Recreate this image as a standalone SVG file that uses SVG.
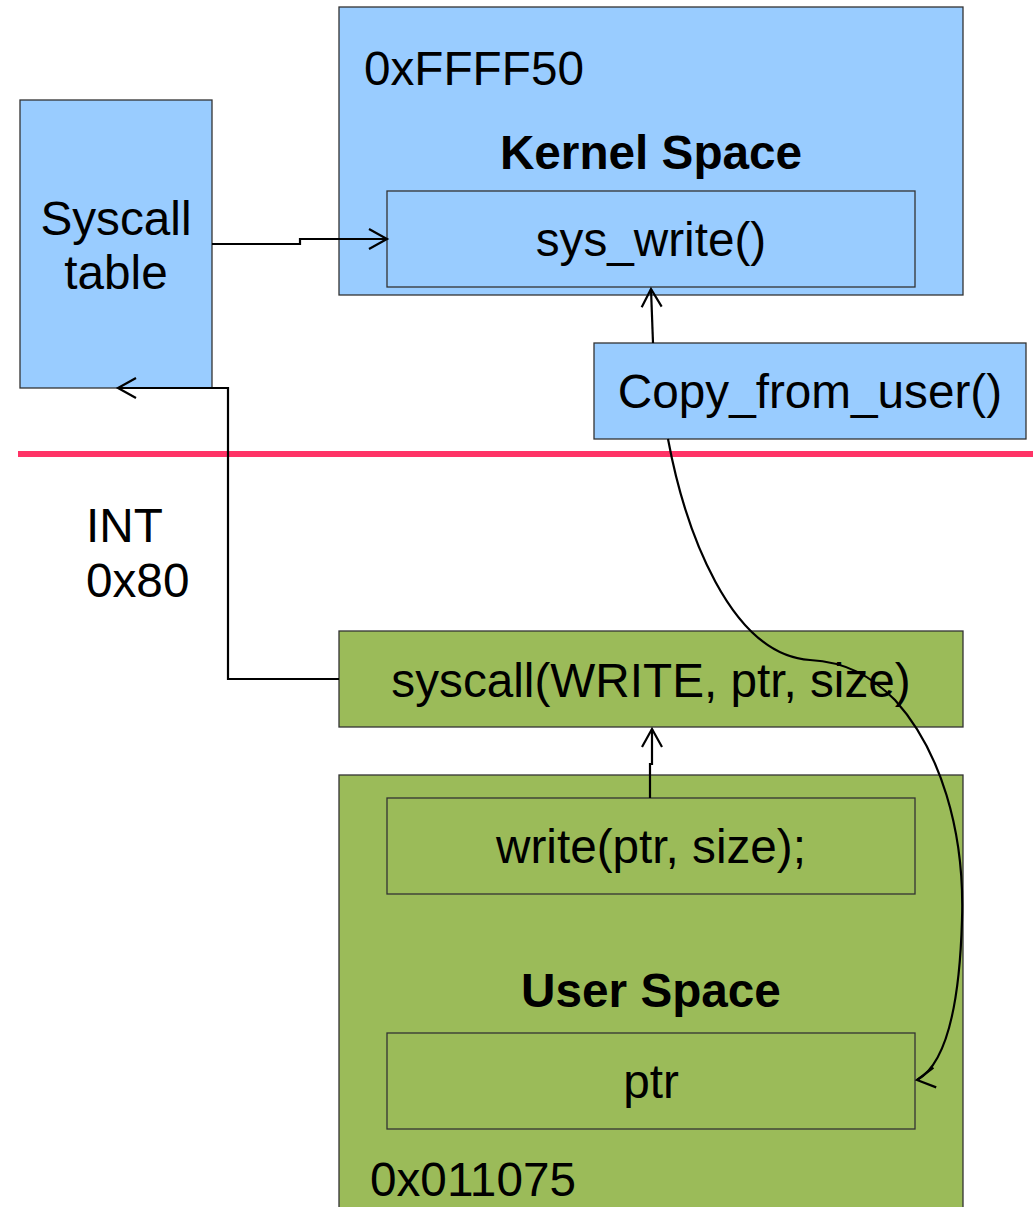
<svg xmlns="http://www.w3.org/2000/svg" width="1033" height="1207" viewBox="0 0 1033 1207">
<style>
  text { font-family: "Liberation Sans", Arial, sans-serif; font-size: 47.7px; fill: #000; }
  .c { text-anchor: middle; }
  .b { font-weight: bold; }
  .blue { fill: #99ccff; stroke: #333; stroke-width: 1.3; }
  .green { fill: #9bbb59; stroke: #333; stroke-width: 1.3; }
  .conn { fill: none; stroke: #000; stroke-width: 2.2; }
</style>
<defs>
  <marker id="arr" markerWidth="24" markerHeight="24" refX="20" refY="12" orient="auto" markerUnits="userSpaceOnUse" overflow="visible">
    <path d="M2,2 L20,12 L2,22" fill="none" stroke="#000" stroke-width="2.2"/>
  </marker>
  <marker id="arr-ptr" markerWidth="24" markerHeight="24" refX="20" refY="12" orient="172" markerUnits="userSpaceOnUse" overflow="visible">
    <path d="M2,2 L20,12 L2,22" fill="none" stroke="#000" stroke-width="2.2"/>
  </marker>
</defs>
<rect width="1033" height="1207" fill="#fff"/>

<g id="kernel-space">
  <rect class="blue" x="339" y="7" width="624" height="288"/>
  <text x="364" y="85">0xFFFF50</text>
  <text class="c b" x="651" y="169">Kernel Space</text>
</g>
<g id="sys-write">
  <rect class="blue" x="387" y="191" width="528" height="96"/>
  <text class="c" x="651" y="256">sys_write()</text>
</g>
<g id="syscall-table">
  <rect class="blue" x="20" y="100" width="192" height="288"/>
  <text class="c" x="116" y="235">Syscall</text>
  <text class="c" x="116" y="289">table</text>
</g>
<g id="copy-from-user">
  <rect class="blue" x="594" y="343" width="432" height="96"/>
  <text class="c" x="810" y="408">Copy_from_user()</text>
</g>
<g id="boundary">
  <line x1="18" y1="454" x2="1033" y2="454" stroke="#ff3366" stroke-width="6"/>
</g>
<g id="int-label">
  <text x="86" y="542">INT</text>
  <text x="86" y="597">0x80</text>
</g>
<g id="syscall-call">
  <rect class="green" x="339" y="631" width="624" height="96"/>
  <text class="c" x="651" y="697">syscall(WRITE, ptr, size)</text>
</g>
<g id="user-space">
  <rect class="green" x="339" y="775" width="624" height="440"/>
  <text class="c b" x="651" y="1007">User Space</text>
  <text x="370" y="1196">0x011075</text>
</g>
<g id="write-call">
  <rect class="green" x="387" y="798" width="528" height="96"/>
  <text class="c" x="651" y="863">write(ptr, size);</text>
</g>
<g id="ptr">
  <rect class="green" x="387" y="1033" width="528" height="96"/>
  <text class="c" x="651" y="1098">ptr</text>
</g>

<g id="connectors">
  <path class="conn" d="M212,244 L300,244 L300,239 L387,239" marker-end="url(#arr)"/>
  <path class="conn" d="M339,679 L228,679 L228,388 L118,388" marker-end="url(#arr)"/>
  <path class="conn" d="M653,343 L651,289" marker-end="url(#arr)"/>
  <path class="conn" d="M650,798 L650,764 L652,764 L652,729" marker-end="url(#arr)"/>
  <path class="conn" d="M668,439 C685,530 730,655 810,660 C845,662 870,675 895,700 C940,750 965,830 962,920 C960,990 950,1062 917,1080" marker-end="url(#arr-ptr)"/>
</g>
</svg>
